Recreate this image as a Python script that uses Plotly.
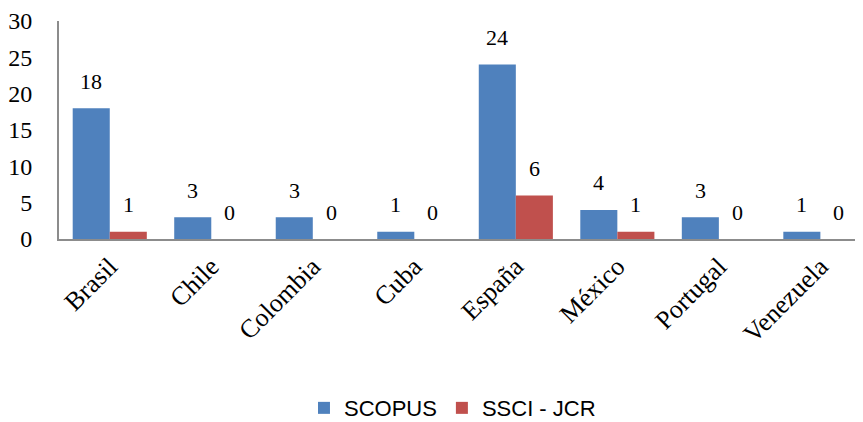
import plotly.graph_objects as go

countries = ["Brasil", "Chile", "Colombia", "Cuba", "España", "México", "Portugal", "Venezuela"]
scopus = [18, 3, 3, 1, 24, 4, 3, 1]
ssci_jcr = [1, 0, 0, 0, 6, 1, 0, 0]
series_names = ["SCOPUS", "SSCI - JCR"]
y_ticks = [0, 5, 10, 15, 20, 25, 30]

BLUE = "#4F81BD"
RED = "#C0504D"
SERIF = "Liberation Serif"
SANS = "Liberation Sans"

fig = go.Figure()
fig.add_trace(go.Bar(x=countries, y=scopus, name=series_names[0], marker_color=BLUE,
                     marker_line_width=0))
fig.add_trace(go.Bar(x=countries, y=ssci_jcr, name=series_names[1], marker_color=RED,
                     marker_line_width=0))

bar_px = 18.5
for vals, shift in ((scopus, -bar_px), (ssci_jcr, bar_px)):
    for c, v in zip(countries, vals):
        fig.add_annotation(x=c, y=v, text=str(v), showarrow=False, xref="x", yref="y",
                           xshift=shift, yshift=27, yanchor="middle",
                           font=dict(family=SERIF, size=22, color="#000000"))

fig.update_layout(
    width=863, height=422,
    margin=dict(l=51, r=9, t=13, b=191),
    paper_bgcolor="white", plot_bgcolor="white",
    barmode="group", bargap=0.27, bargroupgap=0,
    showlegend=True,
    legend=dict(orientation="h", x=0.49, xanchor="center", yref="container", y=0.052,
                yanchor="middle", font=dict(family=SANS, size=22, color="#000000"),
                itemwidth=30),
    xaxis=dict(range=[-0.5, 7.41], showline=True, linecolor="#8c8c8c", linewidth=2,
               tickangle=-45, ticks="", showgrid=False, automargin=False,
               ticklabeloverflow="allow",
               tickfont=dict(family=SERIF, size=26, color="#000000")),
    yaxis=dict(range=[0, 30], tickvals=y_ticks, showline=True, linecolor="#8c8c8c",
               linewidth=2, ticks="", showgrid=False, zeroline=False, automargin=False,
               ticklabelstandoff=20, ticklabeloverflow="allow",
               tickfont=dict(family=SERIF, size=24, color="#000000")),
)

fig.write_html("out.html")
